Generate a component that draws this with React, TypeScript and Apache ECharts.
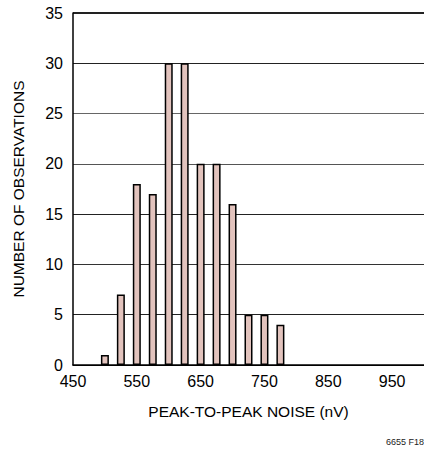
import React, { useEffect, useRef } from "react";
import * as echarts from "echarts";

const binCenters = [500, 525, 550, 575, 600, 625, 650, 675, 700, 725, 750, 775];
const counts = [1, 7, 18, 17, 30, 30, 20, 20, 16, 5, 5, 4];
const xTickLabels = [450, 550, 650, 750, 850, 950];

const FONT = "'Liberation Sans', Arial, sans-serif";

export default function App() {
  const ref = useRef<HTMLDivElement>(null);
  useEffect(() => {
    if (!ref.current) return;
    const chart = echarts.init(ref.current, undefined, { renderer: "svg" });
    chart.setOption({
      animation: false,
      grid: { left: 73, top: 13, right: 0, bottom: 85 },
      xAxis: {
        type: "value",
        min: 450,
        max: 1000,
        interval: 50,
        name: "PEAK-TO-PEAK NOISE (nV)",
        nameLocation: "middle",
        nameGap: 38,
        nameTextStyle: { fontFamily: FONT, fontSize: 15.5, color: "#000" },
        axisLine: { show: true, lineStyle: { color: "#000", width: 1.5 } },
        axisTick: { show: false },
        splitLine: { show: false },
        axisLabel: {
          fontFamily: FONT,
          fontSize: 16,
          color: "#000",
          margin: 8,
          showMaxLabel: false,
          formatter: (v: number) => (xTickLabels.includes(v) ? String(v) : ""),
        },
      },
      yAxis: {
        type: "value",
        min: 0,
        max: 35,
        interval: 5,
        name: "NUMBER OF OBSERVATIONS",
        nameLocation: "middle",
        nameGap: 47,
        nameTextStyle: { fontFamily: FONT, fontSize: 15.5, color: "#000" },
        axisLine: { show: true, lineStyle: { color: "#000", width: 1.5 } },
        axisTick: { show: false },
        axisLabel: { fontFamily: FONT, fontSize: 16, color: "#000", margin: 10 },
        splitLine: {
          show: true,
          lineStyle: {
            color: ["#000", "#222", "#333", "#222", "#555", "#666", "#222", "#222"],
            width: 1,
          },
        },
      },
      series: [
        {
          type: "bar",
          barWidth: 8,
          data: binCenters.map((x, i) => [x, counts[i]]),
          itemStyle: { color: "#e2c3bd", borderColor: "#000", borderWidth: 1.5 },
        },
      ],
      graphic: [
        {
          type: "rect",
          left: 73,
          top: 12,
          shape: { width: 351, height: 1.5 },
          style: { fill: "#222" },
        },
        {
          type: "text",
          right: 0,
          bottom: 4,
          style: { text: "6655 F18", font: `9px ${FONT}`, fill: "#222" },
        },
      ],
    });
    return () => chart.dispose();
  }, []);
  return (
    <div
      ref={ref}
      style={{ position: "absolute", left: 0, top: 0, width: 424, height: 450 }}
    />
  );
}
